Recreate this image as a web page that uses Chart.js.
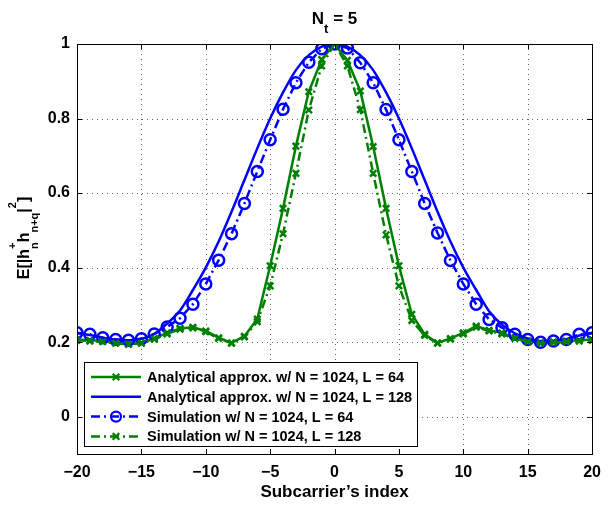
<!DOCTYPE html>
<html lang="en">
<head>
  <meta charset="UTF-8" />
  <title>N_t = 5</title>
  <script src="https://cdn.jsdelivr.net/npm/chart.js"></script>
  <style>
    html, body { margin: 0; padding: 0; background: #fff; }
  </style>
</head>
<body>
  <canvas id="graph" width="610" height="506"></canvas>

  <script>
    // subcarrier index (x axis)
    const subcarrierIndex = [-20, -19, -18, -17, -16, -15, -14, -13, -12, -11, -10, -9, -8, -7, -6, -5, -4, -3, -2, -1,
      0, 1, 2, 3, 4, 5, 6, 7, 8, 9, 10, 11, 12, 13, 14, 15, 16, 17, 18, 19, 20];

    // Analytical approx. N = 1024, L = 64 (green solid, x markers)
    const analyticL64 = [0.207, 0.205, 0.203, 0.198, 0.195, 0.198, 0.210, 0.225, 0.237, 0.240, 0.230, 0.212, 0.198, 0.216, 0.262, 0.405, 0.559, 0.726, 0.872, 0.958,
      1.000, 0.956, 0.874, 0.725, 0.559, 0.405, 0.275, 0.221, 0.198, 0.210, 0.225, 0.243, 0.232, 0.225, 0.212, 0.203, 0.198, 0.201, 0.203, 0.205, 0.207];

    // Analytical approx. N = 1024, L = 128 (blue solid)
    const analyticL128 = [0.224, 0.219, 0.212, 0.207, 0.205, 0.209, 0.222, 0.250, 0.285, 0.340, 0.400, 0.470, 0.550, 0.635, 0.720, 0.800, 0.870, 0.930, 0.970, 0.993,
      1.000, 0.993, 0.970, 0.930, 0.870, 0.800, 0.720, 0.635, 0.550, 0.470, 0.400, 0.340, 0.283, 0.247, 0.224, 0.210, 0.203, 0.203, 0.208, 0.218, 0.224];

    // Simulation N = 1024, L = 64 (blue dash-dot, circles)
    const simulationL64 = [0.225, 0.221, 0.212, 0.207, 0.205, 0.209, 0.222, 0.241, 0.264, 0.302, 0.356, 0.420, 0.491, 0.572, 0.658, 0.743, 0.825, 0.896, 0.951, 0.987,
      1.000, 0.989, 0.950, 0.896, 0.824, 0.743, 0.658, 0.572, 0.493, 0.419, 0.356, 0.302, 0.261, 0.239, 0.221, 0.207, 0.200, 0.203, 0.207, 0.221, 0.225];

    // Simulation N = 1024, L = 128 (green dash-dot, x markers)
    const simulationL128 = [0.205, 0.203, 0.201, 0.197, 0.194, 0.197, 0.208, 0.222, 0.235, 0.238, 0.228, 0.210, 0.197, 0.214, 0.255, 0.351, 0.491, 0.653, 0.823, 0.941,
      1.000, 0.941, 0.824, 0.653, 0.488, 0.351, 0.258, 0.218, 0.197, 0.208, 0.222, 0.240, 0.230, 0.222, 0.210, 0.201, 0.197, 0.199, 0.201, 0.203, 0.205];

    const seriesLabels = [
      'Analytical approx. w/ N = 1024, L = 64',
      'Analytical approx. w/ N = 1024, L = 128',
      'Simulation w/ N = 1024, L = 64',
      'Simulation w/ N = 1024, L = 128'
    ];

    const xTickValues = [-20, -15, -10, -5, 0, 5, 10, 15, 20];
    const yTickValues = [0, 0.2, 0.4, 0.6, 0.8, 1];
    const yTickLabels = ['0', '0.2', '0.4', '0.6', '0.8', '1'];

    const GREEN = '#008000';
    const BLUE = '#0000ff';
    const FONT = '"Liberation Sans", Arial, Helvetica, sans-serif';
    const DASHDOT = [9, 4, 2, 4];

    const toPoints = arr => subcarrierIndex.map((x, i) => ({ x: x, y: arr[i] }));

    // small helper for text with sub/superscripts (MATLAB tex style)
    function drawRich(ctx, parts, x, y, size, small, draw) {
      let start = x;
      parts.forEach(p => {
        if (p.t) {
          ctx.font = `bold ${size}px ${FONT}`;
          if (draw) ctx.fillText(p.t, x, y);
          x += ctx.measureText(p.t).width;
        } else {
          ctx.font = `bold ${small}px ${FONT}`;
          let w = 0;
          if (p.sup) {
            if (draw) ctx.fillText(p.sup, x, y - p.supDy);
            w = Math.max(w, ctx.measureText(p.sup).width);
          }
          if (p.sub) {
            if (draw) ctx.fillText(p.sub, x, y + p.subDy);
            w = Math.max(w, ctx.measureText(p.sub).width);
          }
          x += w;
        }
      });
      return x - start;
    }

    function drawMarker(ctx, kind, x, y) {
      ctx.beginPath();
      if (kind === 'circle') {
        ctx.arc(x, y, 5, 0, Math.PI * 2);
      } else if (kind === 'x') {
        const r = 3.3;
        ctx.moveTo(x - r, y - r); ctx.lineTo(x + r, y + r);
        ctx.moveTo(x - r, y + r); ctx.lineTo(x + r, y - r);
      }
      ctx.stroke();
    }

    const axesPlugin = {
      id: 'matlabAxes',
      beforeDatasetsDraw(chart) {
        const { ctx, chartArea: a, scales: { x, y } } = chart;
        ctx.save();
        ctx.strokeStyle = '#666';
        ctx.lineWidth = 1;
        ctx.setLineDash([1, 4]);
        xTickValues.forEach(v => {
          const px = Math.round(x.getPixelForValue(v)) + 0.5;
          ctx.beginPath(); ctx.moveTo(px, a.top); ctx.lineTo(px, a.bottom); ctx.stroke();
        });
        yTickValues.forEach(v => {
          const py = Math.round(y.getPixelForValue(v)) + 0.5;
          ctx.beginPath(); ctx.moveTo(a.left, py); ctx.lineTo(a.right, py); ctx.stroke();
        });
        ctx.restore();
      },
      afterDraw(chart) {
        const { ctx, chartArea: a, scales: { x, y } } = chart;
        ctx.save();

        // frame + inner ticks
        ctx.strokeStyle = '#000';
        ctx.lineWidth = 1;
        ctx.setLineDash([]);
        ctx.strokeRect(Math.round(a.left) + 0.5, Math.round(a.top) + 0.5,
          Math.round(a.right - a.left), Math.round(a.bottom - a.top));
        const tl = 5;
        ctx.beginPath();
        xTickValues.forEach(v => {
          const px = Math.round(x.getPixelForValue(v)) + 0.5;
          ctx.moveTo(px, a.bottom); ctx.lineTo(px, a.bottom - tl);
          ctx.moveTo(px, a.top); ctx.lineTo(px, a.top + tl);
        });
        yTickValues.forEach(v => {
          const py = Math.round(y.getPixelForValue(v)) + 0.5;
          ctx.moveTo(a.left, py); ctx.lineTo(a.left + tl, py);
          ctx.moveTo(a.right, py); ctx.lineTo(a.right - tl, py);
        });
        ctx.stroke();

        // title  N_t = 5
        ctx.fillStyle = '#000';
        ctx.textBaseline = 'alphabetic';
        ctx.textAlign = 'left';
        const titleParts = [{ t: 'N' }, { sub: 't', subDy: 9 }, { t: ' = 5' }];
        const tw = drawRich(ctx, titleParts, 0, 0, 17, 13, false);
        drawRich(ctx, titleParts, (a.left + a.right) / 2 - tw / 2, 24, 17, 13, true);

        // y label  E[|h^+_n h_{n+q}|^2]
        const yParts = [
          { t: 'E[|h' }, { sup: '+', supDy: 13, sub: 'n', subDy: 9 },
          { t: 'h' }, { sub: 'n+q', subDy: 9 },
          { t: '|' }, { sup: '2', supDy: 13 }, { t: ']' }
        ];
        const yw = drawRich(ctx, yParts, 0, 0, 16, 11, false);
        ctx.save();
        ctx.translate(29, 238 + yw / 2);
        ctx.rotate(-Math.PI / 2);
        drawRich(ctx, yParts, 0, 0, 16, 11, true);
        ctx.restore();

        // legend box
        const lx = 84, ly = 362, lw = 333, lh = 84;
        ctx.fillStyle = '#fff';
        ctx.fillRect(lx, ly, lw, lh);
        ctx.strokeStyle = '#000';
        ctx.lineWidth = 1;
        ctx.strokeRect(lx + 0.5, ly + 0.5, lw, lh);
        chart.data.datasets.forEach((ds, i) => {
          const ry = ly + 15 + i * 19.8;
          ctx.strokeStyle = ds.borderColor;
          ctx.lineWidth = 2.5;
          ctx.setLineDash(ds.borderDash || []);
          ctx.beginPath(); ctx.moveTo(91, ry); ctx.lineTo(141, ry); ctx.stroke();
          ctx.setLineDash([]);
          ctx.lineWidth = 2.2;
          if (ds.pointRadius > 0) drawMarker(ctx, ds.pointStyle === 'circle' ? 'circle' : 'x', 116, ry);
          ctx.fillStyle = '#000';
          ctx.font = `bold 14.5px ${FONT}`;
          ctx.textBaseline = 'middle';
          ctx.fillText(ds.label, 147, ry + 1);
        });

        ctx.restore();
      }
    };

    const ctx = document.getElementById('graph').getContext('2d');

    const chart = new Chart(ctx, {
      type: 'line',
      data: {
        datasets: [
          {
            label: seriesLabels[0],
            data: toPoints(analyticL64),
            borderColor: GREEN,
            borderWidth: 2.5,
            pointStyle: 'crossRot',
            pointRadius: 4.5,
            pointBorderWidth: 2.5,
            pointBorderColor: GREEN,
            fill: false,
            order: 3
          },
          {
            label: seriesLabels[1],
            data: toPoints(analyticL128),
            borderColor: BLUE,
            borderWidth: 2.5,
            pointRadius: 0,
            cubicInterpolationMode: 'monotone',
            fill: false,
            order: 2
          },
          {
            label: seriesLabels[2],
            data: toPoints(simulationL64),
            borderColor: BLUE,
            borderWidth: 2.5,
            borderDash: DASHDOT,
            pointStyle: 'circle',
            pointRadius: 5.5,
            pointBorderWidth: 2.5,
            pointBorderColor: BLUE,
            pointBackgroundColor: 'rgba(0,0,0,0)',
            fill: false,
            order: 1
          },
          {
            label: seriesLabels[3],
            data: toPoints(simulationL128),
            borderColor: GREEN,
            borderWidth: 2.5,
            borderDash: DASHDOT,
            pointStyle: 'crossRot',
            pointRadius: 4.5,
            pointBorderWidth: 2.5,
            pointBorderColor: GREEN,
            fill: false,
            order: 0
          }
        ]
      },
      options: {
        responsive: false,
        animation: false,
        devicePixelRatio: 1,
        layout: { padding: { top: 44, right: 12, left: 0, bottom: 0 } },
        plugins: {
          legend: { display: false },
          title: { display: false },
          tooltip: { enabled: false }
        },
        scales: {
          x: {
            type: 'linear',
            min: -20,
            max: 20,
            afterFit: s => { s.height = 52; },
            afterBuildTicks: s => { s.ticks = xTickValues.map(v => ({ value: v })); },
            grid: { display: false, drawTicks: false },
            border: { display: false },
            ticks: {
              color: '#000',
              padding: 9,
              maxRotation: 0,
              font: { family: FONT, size: 16, weight: 'bold' },
              callback: v => String(v).replace('-', '\u2212')
            },
            title: {
              display: true,
              text: 'Subcarrier\u2019s index',
              color: '#000',
              font: { family: FONT, size: 17, weight: 'bold' },
              padding: { top: 0, bottom: 3 }
            }
          },
          y: {
            type: 'linear',
            min: -0.1,
            max: 1,
            afterFit: s => { s.width = 77; },
            afterBuildTicks: s => { s.ticks = yTickValues.map(v => ({ value: v })); },
            grid: { display: false, drawTicks: false },
            border: { display: false },
            ticks: {
              color: '#000',
              padding: 7,
              font: { family: FONT, size: 16, weight: 'bold' },
              callback: (v, i) => yTickLabels[i]
            }
          }
        }
      },
      plugins: [axesPlugin]
    });
  </script>
</body>
</html>
